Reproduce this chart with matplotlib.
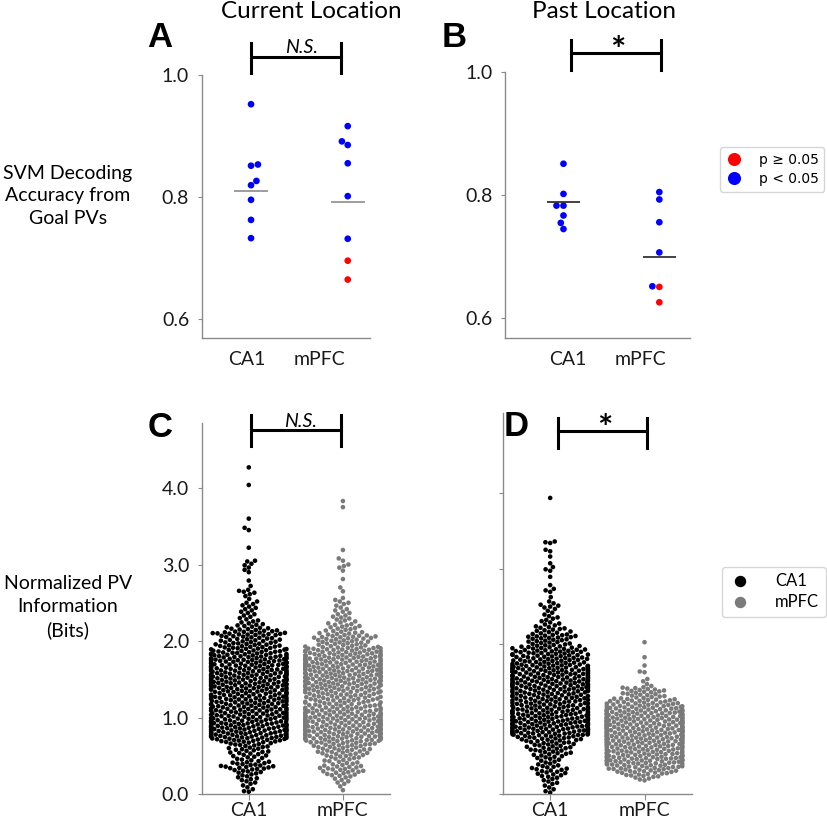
import numpy as np
import pandas as pd
import matplotlib
matplotlib.use("Agg")
import matplotlib.pyplot as plt
import matplotlib.transforms as mtransforms
from matplotlib.lines import Line2D
import seaborn as sns

# ---- top row: SVM decoding accuracy per animal ----
a_ca1 = [0.952, 0.853, 0.851, 0.826, 0.819, 0.795, 0.762, 0.732]
a_ca1_sig = [1, 1, 1, 1, 1, 1, 1, 1]
a_mpfc = [0.916, 0.891, 0.885, 0.855, 0.801, 0.731, 0.695, 0.664]
a_mpfc_sig = [1, 1, 1, 1, 1, 1, 0, 0]
a_means = [0.810, 0.792]

b_ca1 = [0.851, 0.802, 0.783, 0.783, 0.767, 0.755, 0.745]
b_ca1_sig = [1, 1, 1, 1, 1, 1, 1]
b_mpfc = [0.805, 0.793, 0.756, 0.707, 0.652, 0.651, 0.626]
b_mpfc_sig = [1, 1, 1, 1, 1, 0, 0]
b_means = [0.789, 0.700]

# ---- bottom row: PV information, counts per 0.05-bit bin read off the swarms ----
# (first bin centred on *_start, one count per bin going up, plus the sparse tail)
c_ca1_start = 0.05
c_ca1_counts = [2, 2, 3, 4, 4, 6, 10, 8, 5, 6, 7, 7, 8, 14, 18, 18, 18, 18, 17, 16,
                16, 16, 16, 16, 16, 16, 16, 17, 18, 18, 18, 18, 18, 18, 18, 17, 15, 14, 12, 11,
                10, 15, 9, 6, 4, 3, 3, 3, 3, 3, 1, 2, 4]
c_ca1_extra = [0.03, 2.72, 2.79, 2.90, 2.93, 2.96, 2.99, 3.01, 3.04, 3.05, 3.22, 3.45,
               3.48, 3.60, 4.04, 4.27]

c_mpfc_start = 0.05
c_mpfc_counts = [1, 1, 3, 3, 6, 8, 8, 6, 6, 8, 10, 10, 12, 16, 18, 18, 18, 18, 18, 18,
                 17, 16, 14, 14, 14, 14, 15, 16, 17, 18, 18, 18, 18, 18, 18, 17, 16, 16, 10, 10,
                 12, 8, 6, 6, 4, 4, 3, 3, 2, 3, 2]
c_mpfc_extra = [2.65, 2.70, 2.81, 2.92, 2.96, 2.98, 3.00, 3.05, 3.08, 3.19, 3.75, 3.83]

d_ca1_start = 0.05
d_ca1_counts = [2, 2, 3, 3, 5, 6, 6, 4, 4, 6, 7, 8, 8, 10, 12, 18, 18, 18, 18, 18,
                18, 17, 15, 15, 15, 15, 15, 17, 18, 18, 18, 18, 18, 17, 14, 14, 14, 14, 12, 8,
                8, 10, 6, 6, 4, 3, 3, 2, 2, 4, 2]
d_ca1_extra = [0.02, 2.62, 2.69, 2.71, 2.73, 2.78, 2.89, 2.97, 2.99, 3.02, 3.07, 3.16,
               3.23, 3.25, 3.34, 3.35, 3.36, 3.94]

d_mpfc_start = 0.20
d_mpfc_counts = [4, 8, 12, 14, 16, 18, 18, 18, 16, 18, 20, 22, 22, 22, 22, 22, 22, 20,
                 20, 16, 14, 12, 8, 8, 8, 2]
d_mpfc_extra = [1.50, 1.53, 1.62, 1.63, 1.71, 1.82, 2.02]

groups = ["CA1", "mPFC"]
sig_labels = ["p \u2265 0.05", "p < 0.05"]
BIN = 0.05


def expand(start, counts, extra):
    # lay each bin's count out across the bin
    vals = []
    for i, n in enumerate(counts):
        lo = start + i * BIN - BIN / 2
        vals += [lo + BIN * (k + 0.5) / n for k in range(n)]
    return np.array(vals + extra)


def top_frame(ca1, ca1_sig, mpfc, mpfc_sig):
    return pd.DataFrame({
        "group": ["CA1"] * len(ca1) + ["mPFC"] * len(mpfc),
        "acc": ca1 + mpfc,
        "sig": [sig_labels[s] for s in ca1_sig + mpfc_sig],
    })


def bottom_frame(ca1, mpfc):
    return pd.DataFrame({
        "group": ["CA1"] * len(ca1) + ["mPFC"] * len(mpfc),
        "info": np.concatenate([ca1, mpfc]),
    })


plt.rcParams["font.family"] = ["Lato", "DejaVu Sans"]
W, H = 828, 821
fig = plt.figure(figsize=(W / 100, H / 100), dpi=100)


def box(l, t, r, b):
    return [l / W, 1 - b / H, (r - l) / W, (b - t) / H]


def ftext(x, y, s, **kw):
    fig.text(x / W, 1 - y / H, s, **kw)


axA = fig.add_axes(box(201.7, 75, 370, 338))
axB = fig.add_axes(box(505, 72, 690, 338))
axC = fig.add_axes(box(201.7, 423, 390, 794))
axD = fig.add_axes(box(503, 413, 691.7, 794))

sig_pal = {sig_labels[0]: "#ff0000", sig_labels[1]: "#0000ff"}
grp_pal = {"CA1": "#000000", "mPFC": "#7a7a7a"}
spine_col = "#8a8a8a"

for ax, df, means, xlim, lc, xt in [
        (axA, top_frame(a_ca1, a_ca1_sig, a_mpfc, a_mpfc_sig), a_means, (-0.51, 1.23), "#8c8c8c", [-0.045, 0.71]),
        (axB, top_frame(b_ca1, b_ca1_sig, b_mpfc, b_mpfc_sig), b_means, (-0.61, 1.32), "#222222", [0.05, 0.80])]:
    sns.swarmplot(data=df, x="group", y="acc", hue="sig", palette=sig_pal, order=groups,
                  size=4.8, ax=ax, legend=False)
    for i, m in enumerate(means):
        ax.hlines(m, i - 0.175, i + 0.175, color=lc, lw=1.2, zorder=3)
    ax.set_xlim(*xlim)
    ax.set_ylim(0.568, 1.0)
    ax.set_yticks([0.6, 0.8, 1.0])
    ax.set_yticklabels(["0.6", "0.8", "1.0"])
    ax.set_xticks(xt)
    ax.set_xticklabels(groups)
    ax.tick_params(axis="x", length=0, pad=9)

for ax, ca1, mpfc, ylim in [
        (axC, expand(c_ca1_start, c_ca1_counts, c_ca1_extra),
         expand(c_mpfc_start, c_mpfc_counts, c_mpfc_extra), (0, 4.85)),
        (axD, expand(d_ca1_start, d_ca1_counts, d_ca1_extra),
         expand(d_mpfc_start, d_mpfc_counts, d_mpfc_extra), (0, 5.07))]:
    df = bottom_frame(ca1, mpfc)
    sns.swarmplot(data=df, x="group", y="info", hue="group", palette=grp_pal, order=groups,
                  size=3.3, ax=ax, legend=False)
    ax.set_xlim(-0.5, 1.5)
    ax.set_ylim(*ylim)
    ax.set_yticks([0, 1, 2, 3, 4])
    ax.set_yticklabels(["0.0", "1.0", "2.0", "3.0", "4.0"])
    ax.tick_params(axis="x", length=4, pad=2)

axD.set_yticklabels([])

for ax in [axA, axB, axC, axD]:
    ax.set_xlabel("")
    ax.set_ylabel("")
    for s in ["top", "right"]:
        ax.spines[s].set_visible(False)
    for s in ["left", "bottom"]:
        ax.spines[s].set_color(spine_col)
        ax.spines[s].set_linewidth(1.0)
    ax.tick_params(axis="both", labelsize=14, colors=spine_col, labelcolor="#1a1a1a")
    ax.tick_params(axis="y", length=3, pad=6)
    ax.set_facecolor("none")


# significance brackets: x in data units, y in figure pixels
def bracket(ax, x0, x1, y, y0, y1, label, lx, ly, **kw):
    tr = mtransforms.blended_transform_factory(ax.transData, fig.transFigure)
    fy = lambda v: 1 - v / H
    ax.plot([x0, x1], [fy(y), fy(y)], color="black", lw=2.2, transform=tr, clip_on=False)
    for xx in (x0, x1):
        ax.plot([xx, xx], [fy(y0), fy(y1)], color="black", lw=2.2, transform=tr, clip_on=False)
    ax.text(lx, fy(ly), label, transform=tr, ha="center", va="baseline", **kw)


bracket(axA, 0.0, 0.93, 57, 43, 73, "N.S.", 0.52, 53, fontsize=14, style="italic")
bracket(axB, 0.08, 1.02, 53.5, 40, 70, "*", 0.57, 62, fontsize=26, fontweight="bold")
bracket(axC, 0.02, 0.98, 430, 415, 446, "N.S.", 0.55, 427, fontsize=14, style="italic")
bracket(axD, 0.086, 1.03, 431, 418, 448, "*", 0.58, 440, fontsize=26, fontweight="bold")

# titles, panel letters, row labels
ftext(311.7, 18, "Current Location", ha="center", va="baseline", fontsize=17.5)
ftext(604, 18, "Past Location", ha="center", va="baseline", fontsize=17.5)
for x, y, s in [(160, 47, "A"), (454.5, 47, "B"), (160, 437, "C"), (516, 436, "D")]:
    ftext(x, y, s, ha="center", va="baseline", fontsize=25, fontweight="bold",
          family="Liberation Sans")
ftext(68, 196, "SVM Decoding\nAccuracy from\nGoal PVs", ha="center", va="center",
      fontsize=14, linespacing=1.4)
ftext(68, 607, "Normalized PV\nInformation\n(Bits)", ha="center", va="center",
      fontsize=14, linespacing=1.4)

# legends
h_sig = [Line2D([], [], ls="", marker="o", markersize=8.4, color=sig_pal[s], label=s)
         for s in sig_labels]
fig.legend(handles=h_sig, loc="upper left", bbox_to_anchor=(720 / W, 1 - 147 / H),
           prop={"family": "DejaVu Sans", "size": 10}, handletextpad=1.2,
           borderaxespad=0, handlelength=1.2, labelspacing=0.4)
h_grp = [Line2D([], [], ls="", marker="o", markersize=7.2, color=grp_pal[g], label=g)
         for g in groups]
fig.legend(handles=h_grp, loc="upper left", bbox_to_anchor=(721.7 / W, 1 - 566.7 / H),
           prop={"size": 12}, handletextpad=1.4, borderaxespad=0, handlelength=1.4,
           labelspacing=0.3)

fig.savefig("out.png", dpi=100)
